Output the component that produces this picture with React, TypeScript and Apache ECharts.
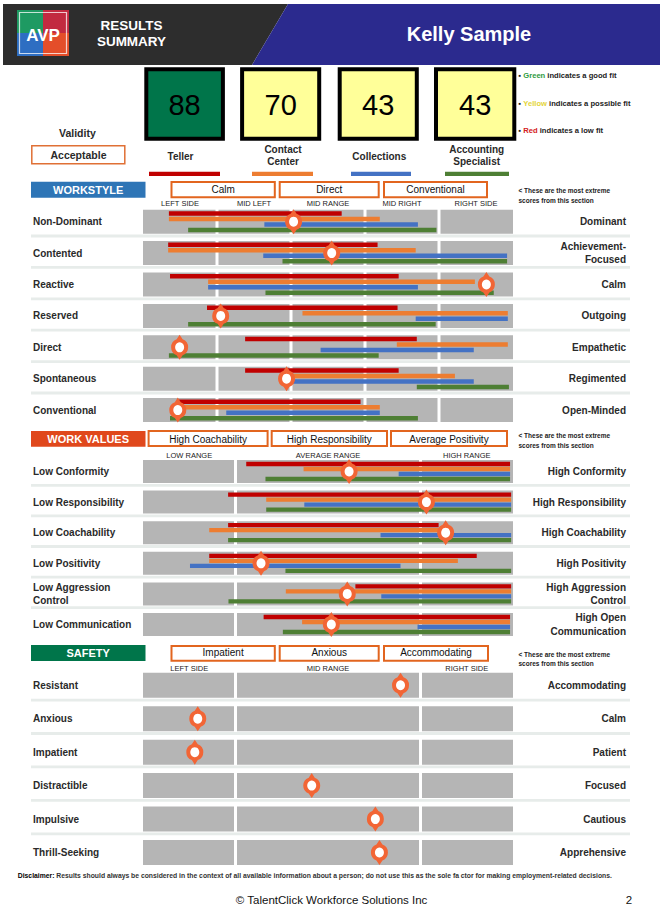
import React, { useEffect, useRef } from "react";
import * as echarts from "echarts";

// ---------------- data ----------------
const personName = "Kelly Sample";
const validityLabel = "Validity";
const validityValue = "Acceptable";
const jobNames = ["Teller", "Contact\nCenter", "Collections", "Accounting\nSpecialist"];
const jobScores = [88, 70, 43, 43];
const jobFit = ["good", "possible", "possible", "possible"];
const fitLegend = [
  { word: "Green", rest: " indicates a good fit" },
  { word: "Yellow", rest: " indicates a possible fit" },
  { word: "Red", rest: " indicates a low fit" },
];

const workstyleLeft = ["Non-Dominant", "Contented", "Reactive", "Reserved", "Direct", "Spontaneous", "Conventional"];
const workstyleRight = ["Dominant", "Achievement-\nFocused", "Calm", "Outgoing", "Empathetic", "Regimented", "Open-Minded"];
const workstyleExtremes = ["Calm", "Direct", "Conventional"];
const workstyleColumns = [0, 20, 40, 60, 80, 100];
const workstyleColumnLabels = ["LEFT SIDE", "MID LEFT", "MID RANGE", "MID RIGHT", "RIGHT SIDE"];
const workstyleTeller = [[7.0, 53.7], [6.8, 63.4], [7.3, 69.1], [17.3, 68.8], [27.6, 74.0], [27.6, 69.1], [9.5, 58.8]];
const workstyleContact = [[7.0, 64.0], [6.8, 73.7], [17.6, 89.7], [43.1, 98.6], [68.6, 98.6], [37.5, 84.3], [9.5, 64.0]];
const workstyleCollections = [[32.8, 74.3], [32.5, 98.4], [17.6, 74.3], [73.7, 98.6], [48.0, 89.4], [39.0, 89.4], [22.5, 64.0]];
const workstyleAccounting = [[12.2, 79.3], [37.7, 98.4], [33.1, 94.8], [12.2, 79.1], [7.0, 63.7], [74.0, 98.9], [7.3, 74.3]];
const workstyleScores = [40.7, 51.0, 92.8, 21.0, 9.9, 38.8, 9.4];

const valuesLeft = ["Low Conformity", "Low Responsibility", "Low Coachability", "Low Positivity", "Low Aggression\nControl", "Low Communication"];
const valuesRight = ["High Conformity", "High Responsibility", "High Coachability", "High Positivity", "High Aggression\nControl", "High Open\nCommunication"];
const valuesExtremes = ["High Coachability", "High Responsibility", "Average Positivity"];
const rangeColumns = [0, 25, 75, 100];
const valuesColumnLabels = ["LOW RANGE", "AVERAGE RANGE", "HIGH RANGE"];
const valuesTeller = [[27.9, 99.2], [23.0, 99.5], [23.0, 79.9], [17.9, 90.2], [57.4, 99.5], [32.6, 99.2]];
const valuesContact = [[43.4, 99.2], [33.3, 99.5], [17.9, 80.5], [17.9, 85.1], [38.6, 99.5], [43.0, 99.2]];
const valuesCollections = [[69.1, 99.2], [43.6, 99.5], [64.2, 99.5], [12.7, 69.6], [64.4, 99.5], [74.2, 99.2]];
const valuesAccounting = [[33.1, 99.2], [33.3, 99.5], [23.0, 99.5], [38.5, 99.5], [23.1, 99.5], [37.8, 99.2]];
const valuesScores = [55.7, 76.6, 81.8, 31.9, 55.2, 50.9];

const safetyLeft = ["Resistant", "Anxious", "Impatient", "Distractible", "Impulsive", "Thrill-Seeking"];
const safetyRight = ["Accommodating", "Calm", "Patient", "Focused", "Cautious", "Apprehensive"];
const safetyExtremes = ["Impatient", "Anxious", "Accommodating"];
const safetyColumnLabels = ["LEFT SIDE", "MID RANGE", "RIGHT SIDE"];
const safetyScores = [69.6, 14.8, 14.0, 45.6, 62.8, 63.9];

const noteText = "< These are the most extreme\nscores from this section";
const disclaimerHead = "Disclaimer:";
const disclaimerBody = " Results should always be considered in the context of all available information about a person; do not use this as the sole fa ctor for making employment-related decisions.";
const copyright = "\u00A9 TalentClick Workforce Solutions Inc";
const pageNumber = "2";

// ---------------- styles / layout ----------------
const FONT = '"Liberation Sans", Arial, Helvetica, sans-serif';
const JOB_COLORS = ["#C00000", "#ED7D31", "#4472C4", "#4E7F34"];
const FIT_COLORS: Record<string, string> = { good: "#00754A", possible: "#FFFF99", low: "#E02020" };
const LEGEND_COLORS = ["#2E9B3F", "#E3D43A", "#D42020"];
const ORANGE_BOX = "#E2651F";
const MARKER = "#F26535";
const CELL = "#B5B5B5";
const SEP = "#E7ECEA";
const LABEL = "#2A2A2A";
const GRID_LEFT = 143;
const GRID_WIDTH = 370;
const MARKER_PATH =
  "path://M0,-12.5 L3,-7.95 A8.5,8.5 0 0 1 3,7.95 L0,12.5 L-3,7.95 A8.5,8.5 0 0 1 -3,-7.95 Z";

const sections = [
  {
    name: "WORKSTYLE", color: "#2E75B6", top: 206, rowH: 31.4, band: 24, barH: 4.5, barStep: 5.5,
    left: workstyleLeft, right: workstyleRight, cols: workstyleColumns, colLabels: workstyleColumnLabels,
    bars: [workstyleTeller, workstyleContact, workstyleCollections, workstyleAccounting],
    scores: workstyleScores, extremes: workstyleExtremes, tick: 10, labelMargin: 3,
    headerY: [181.7, 197.7], boxY: [181, 198.3], boxX: [[170.5, 275.8], [278.7, 379.7], [383, 488]],
    boxTextY: 189.7, noteY: 195.5,
  },
  {
    name: "WORK VALUES", color: "#E0481C", top: 456.2, rowH: 30.6, band: 23, barH: 4.3, barStep: 5,
    left: valuesLeft, right: valuesRight, cols: rangeColumns, colLabels: valuesColumnLabels,
    bars: [valuesTeller, valuesContact, valuesCollections, valuesAccounting],
    scores: valuesScores, extremes: valuesExtremes, tick: 12.5, labelMargin: 1.2,
    headerY: [431, 446.7], boxY: [430, 447], boxX: [[147.6, 268.6], [270.7, 388], [390, 508]],
    boxTextY: 439, noteY: 440.7,
  },
  {
    name: "SAFETY", color: "#00754A", top: 668.5, rowH: 33.46, band: 25, barH: 4.5, barStep: 5.5,
    left: safetyLeft, right: safetyRight, cols: rangeColumns, colLabels: safetyColumnLabels,
    bars: [] as number[][][],
    scores: safetyScores, extremes: safetyExtremes, tick: 12.5, labelMargin: 0.3,
    headerY: [645, 661], boxY: [645, 661.7], boxX: [[170.5, 275.8], [278.7, 379.7], [383, 489]],
    boxTextY: 652.3, noteY: 658.8,
  },
];

function T(text: string, x: number, y: number, size: number, opt: any = {}) {
  const align = opt.align || "center";
  return {
    type: "text",
    silent: true,
    z: 10,
    style: {
      text,
      x,
      y,
      font: `${opt.weight || "normal"} ${size}px ${opt.family || FONT}`,
      fill: opt.color || "#222",
      align,
      verticalAlign: "middle",
      textAlign: align,
      textVerticalAlign: "middle",
      lineHeight: opt.lineHeight,
      rich: opt.rich,
    },
  };
}

function R(x: number, y: number, w: number, h: number, style: any) {
  return { type: "rect", silent: true, z: 5, shape: { x, y, width: w, height: h }, style };
}

function buildGraphic() {
  const els: any[] = [];
  // header
  els.push({ type: "polygon", silent: true, shape: { points: [[3, 4], [288, 4], [252, 65], [3, 65]] }, style: { fill: "#2D2D2D" } });
  els.push({ type: "polygon", silent: true, shape: { points: [[288, 4], [660, 4], [660, 65], [252, 65]] }, style: { fill: "#2B2A8E" } });
  // logo
  els.push(R(17, 10, 26, 23, { fill: "#1E9A62" }));
  els.push(R(43, 10, 26, 23, { fill: "#C22A40" }));
  els.push(R(17, 33, 26, 23, { fill: "#2E6EC2" }));
  els.push(R(43, 33, 26, 23, { fill: "#E44E2A" }));
  els.push(R(19.5, 12.5, 47, 41, { fill: "none", stroke: "rgba(255,255,255,0.75)", lineWidth: 1.2 }));
  els.push(T("AVP", 43, 35, 17, { weight: "bold", color: "#fff" }));
  els.push(T("RESULTS", 131.5, 25, 13.5, { weight: "bold", color: "#fff" }));
  els.push(T("SUMMARY", 131.5, 41.7, 13.5, { weight: "bold", color: "#fff" }));
  els.push(T(personName, 469, 33.5, 20, { weight: "bold", color: "#fff" }));

  // score boxes
  const boxL = [144.3, 240.1, 337.7, 434];
  const boxW = [80.6, 81.1, 81.1, 82.3];
  const labelX = [180.5, 283, 379.3, 476.7];
  const lineX = [[149, 220], [252, 313], [351, 411], [445, 509]];
  jobScores.forEach((s, i) => {
    els.push(R(boxL[i] + 2, 69.3, boxW[i] - 4, 69.4, { fill: FIT_COLORS[jobFit[i]], stroke: "#000", lineWidth: 4 }));
    els.push(T(String(s), boxL[i] + boxW[i] / 2, 104.5, 29, { color: "#000" }));
    els.push(T(jobNames[i], labelX[i], jobNames[i].includes("\n") ? 155.3 : 156.5, 10, { weight: "bold", color: LABEL, lineHeight: 12 }));
    els.push(R(lineX[i][0], 171.8, lineX[i][1] - lineX[i][0], 4.2, { fill: JOB_COLORS[i] }));
  });
  const legendY = [75.7, 103.3, 130];
  fitLegend.forEach((l, i) => {
    els.push({
      type: "text", silent: true, z: 10,
      style: {
        text: "\u25AA {c|" + l.word + "}" + l.rest,
        x: 518.5, y: legendY[i],
        font: `bold 7.6px ${FONT}`, fill: "#222",
        align: "left", verticalAlign: "middle", textAlign: "left", textVerticalAlign: "middle",
        rich: { c: { fill: LEGEND_COLORS[i], font: `bold 7.6px ${FONT}` } },
      },
    });
  });
  els.push(T(validityLabel, 77.4, 132.7, 10.5, { weight: "bold", color: LABEL }));
  els.push(R(31.8, 145.8, 93, 18, { fill: "#fff", stroke: "#E07035", lineWidth: 1.5 }));
  els.push(T(validityValue, 78.5, 155.2, 10.5, { weight: "bold", color: LABEL }));

  // section headers
  sections.forEach((s) => {
    els.push(R(31, s.headerY[0], 114.5, s.headerY[1] - s.headerY[0], { fill: s.color }));
    els.push(T(s.name, 88.2, (s.headerY[0] + s.headerY[1]) / 2, 11, { weight: "bold", color: "#fff" }));
    s.boxX.forEach((bx, k) => {
      els.push(R(bx[0] + 1, s.boxY[0] + 1, bx[1] - bx[0] - 2, s.boxY[1] - s.boxY[0] - 2, { fill: "#fff", stroke: ORANGE_BOX, lineWidth: 2 }));
      els.push(T(s.extremes[k], (bx[0] + bx[1]) / 2, s.boxTextY, 10, { color: "#111" }));
    });
    els.push(T(noteText, 518.5, s.noteY, 6.5, { weight: "bold", color: "#222", align: "left", lineHeight: 9.5 }));
  });

  // footer
  els.push({
    type: "text", silent: true, z: 10,
    style: {
      text: "{h|" + disclaimerHead + "}" + disclaimerBody,
      x: 17.8, y: 875,
      font: `bold 6.8px ${FONT}`, fill: "#333",
      align: "left", verticalAlign: "middle", textAlign: "left", textVerticalAlign: "middle",
      rich: { h: { fill: "#000", font: `bold 6.8px ${FONT}` } },
    },
  });
  els.push(T(copyright, 331.6, 900, 11.5, { color: "#111" }));
  els.push(T(pageNumber, 629, 900, 11.5, { color: "#111" }));
  return els;
}

function buildOption() {
  const grid: any[] = [];
  const xAxis: any[] = [];
  const yAxis: any[] = [];
  const series: any[] = [];

  sections.forEach((s, si) => {
    const n = s.left.length;
    grid.push({ left: GRID_LEFT, width: GRID_WIDTH, top: s.top, height: s.rowH * n });
    const mids = s.cols.slice(0, -1).map((c, i) => (c + s.cols[i + 1]) / 2);
    xAxis.push({
      gridIndex: si, type: "value", min: 0, max: 100, interval: s.tick, position: "top",
      axisLine: { show: false }, axisTick: { show: false }, splitLine: { show: false },
      axisLabel: {
        margin: s.labelMargin, verticalAlign: "middle", fontSize: 7.5, color: "#222", fontFamily: FONT,
        formatter: (v: number) => {
          const k = mids.findIndex((m) => Math.abs(m - v) < 0.01);
          return k >= 0 ? s.colLabels[k] : "";
        },
      },
    });
    const yBase = {
      gridIndex: si, type: "category", inverse: true,
      axisLine: { show: false }, axisTick: { show: false }, splitLine: { show: false },
    };
    yAxis.push({
      ...yBase, data: s.left,
      axisLabel: { interval: 0, align: "left", margin: GRID_LEFT - 33, fontSize: 10, fontWeight: "bold", color: LABEL, fontFamily: FONT, lineHeight: 13.5 },
    });
    yAxis.push({
      ...yBase, position: "right", data: s.right,
      axisLabel: { interval: 0, align: "right", margin: 626 - (GRID_LEFT + GRID_WIDTH), fontSize: 10, fontWeight: "bold", color: LABEL, fontFamily: FONT, lineHeight: 13.5 },
    });

    // gray cells
    const cells: number[][] = [];
    for (let r = 0; r < n; r++) for (let c = 0; c < s.cols.length - 1; c++) cells.push([r, s.cols[c], s.cols[c + 1]]);
    series.push({
      type: "custom", xAxisIndex: si, yAxisIndex: si * 2, z: 1, silent: true, clip: false,
      data: cells, encode: { x: [1, 2], y: 0 },
      renderItem: (_p: any, api: any) => {
        const row = api.value(0), a = api.value(1), b = api.value(2);
        const p0 = api.coord([a, row]);
        const p1 = api.coord([b, row]);
        const x0 = p0[0] + (a > 0 ? 1.5 : 0);
        const x1 = p1[0] - (b < 100 ? 1.5 : 0);
        return { type: "rect", shape: { x: x0, y: p0[1] - s.band / 2, width: x1 - x0, height: s.band }, style: { fill: CELL } };
      },
    });
    // row separators
    series.push({
      type: "custom", xAxisIndex: si, yAxisIndex: si * 2, z: 1, silent: true, clip: false,
      data: s.left.slice(0, -1).map((_l, r) => [r, 0]), encode: { y: 0, x: 1 },
      renderItem: (_p: any, api: any) => {
        const p = api.coord([0, api.value(0)]);
        return { type: "rect", shape: { x: 31, y: p[1] + s.band / 2 + 0.9, width: 599, height: 2.8 }, style: { fill: SEP } };
      },
    });
    // job bars
    s.bars.forEach((arr, j) => {
      series.push({
        type: "custom", name: jobNames[j], xAxisIndex: si, yAxisIndex: si * 2, z: 3, silent: true, clip: false,
        data: arr.map((r, row) => [row, r[0], r[1]]), encode: { x: [1, 2], y: 0 },
        renderItem: (_p: any, api: any) => {
          const row = api.value(0);
          const p0 = api.coord([api.value(1), row]);
          const p1 = api.coord([api.value(2), row]);
          const cy = p0[1] + (j - 1.5) * s.barStep;
          return { type: "rect", shape: { x: p0[0], y: cy - s.barH / 2, width: p1[0] - p0[0], height: s.barH }, style: { fill: JOB_COLORS[j] } };
        },
      });
    });
    // score markers
    const pts = s.scores.map((v, r) => [v, r]);
    series.push({
      type: "scatter", xAxisIndex: si, yAxisIndex: si * 2, z: 5, silent: true,
      symbol: MARKER_PATH, symbolSize: [17, 25], itemStyle: { color: MARKER, opacity: 1 }, data: pts,
    });
    series.push({
      type: "scatter", xAxisIndex: si, yAxisIndex: si * 2, z: 6, silent: true,
      symbol: "circle", symbolSize: [9, 10], itemStyle: { color: "#fff", opacity: 1 }, data: pts,
    });
  });

  return {
    animation: false,
    backgroundColor: "#fff",
    grid, xAxis, yAxis, series,
    graphic: { elements: buildGraphic() },
  };
}

export default function App() {
  const ref = useRef<HTMLDivElement>(null);
  useEffect(() => {
    document.body.style.margin = "0";
    document.body.style.overflow = "hidden";
    const chart = echarts.init(ref.current!, null, { renderer: "svg" });
    chart.setOption(buildOption() as any);
    return () => chart.dispose();
  }, []);
  return <div ref={ref} style={{ width: 662, height: 916, background: "#fff" }} />;
}
